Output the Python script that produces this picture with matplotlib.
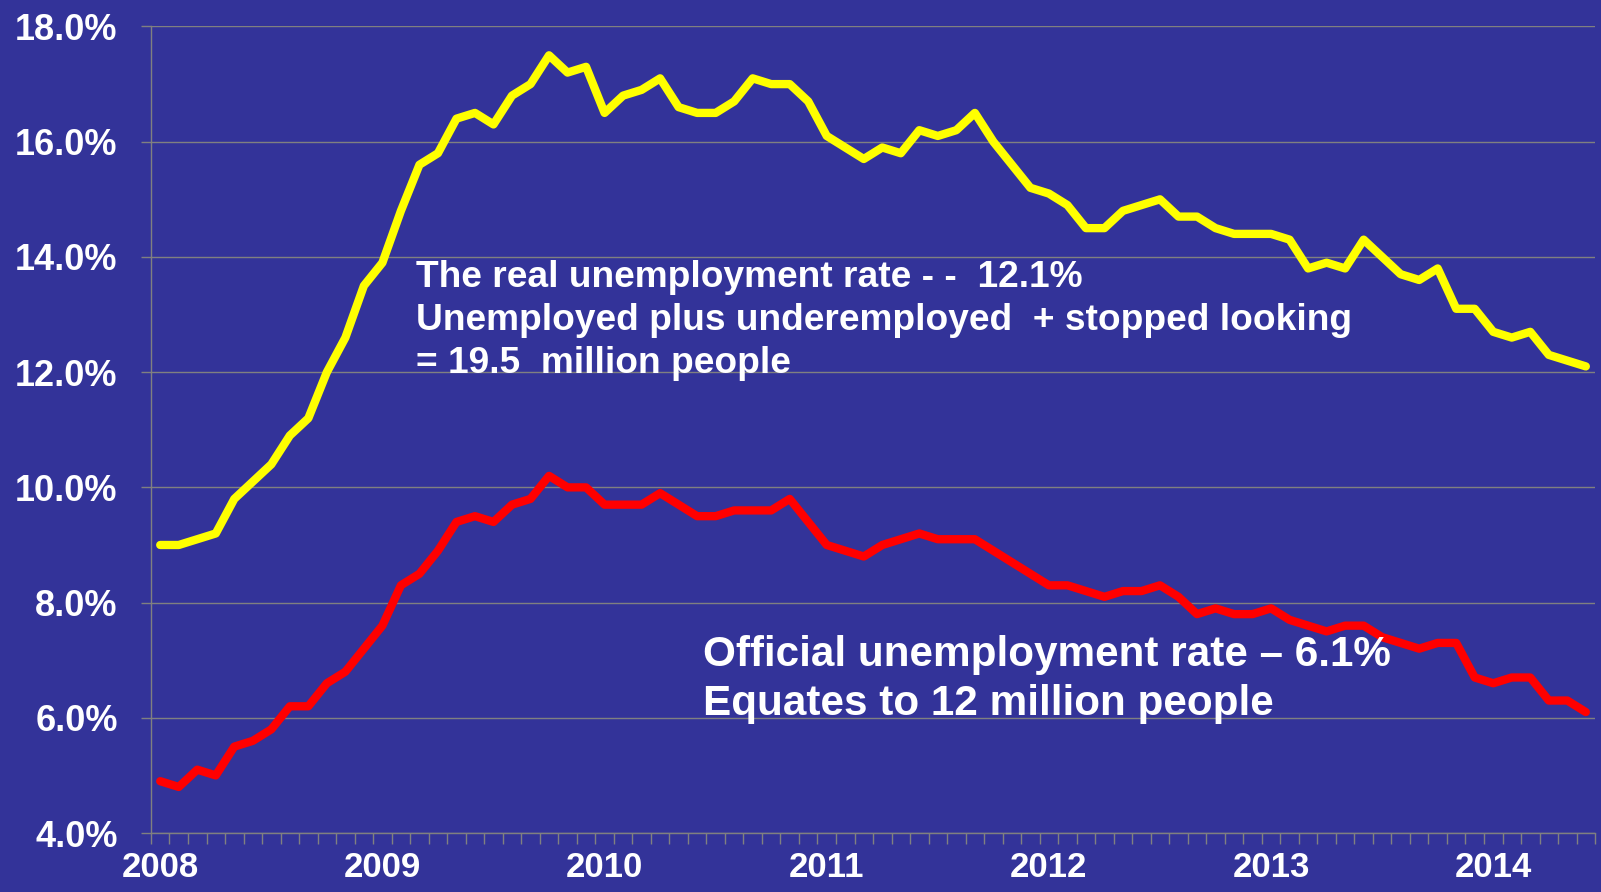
import numpy as np
import matplotlib.pyplot as plt
from matplotlib.ticker import FixedLocator, FuncFormatter

plt.rcParams['font.family'] = ['Liberation Sans', 'DejaVu Sans']

# monthly rates, Jan 2008 - Jun 2014 (percent)
real_rate = [9.0, 9.0, 9.1, 9.2, 9.8, 10.1, 10.4, 10.9, 11.2, 12.0, 12.6, 13.5,
             13.9, 14.8, 15.6, 15.8, 16.4, 16.5, 16.3, 16.8, 17.0, 17.5, 17.2, 17.3,
             16.5, 16.8, 16.9, 17.1, 16.6, 16.5, 16.5, 16.7, 17.1, 17.0, 17.0, 16.7,
             16.1, 15.9, 15.7, 15.9, 15.8, 16.2, 16.1, 16.2, 16.5, 16.0, 15.6, 15.2,
             15.1, 14.9, 14.5, 14.5, 14.8, 14.9, 15.0, 14.7, 14.7, 14.5, 14.4, 14.4,
             14.4, 14.3, 13.8, 13.9, 13.8, 14.3, 14.0, 13.7, 13.6, 13.8, 13.1, 13.1,
             12.7, 12.6, 12.7, 12.3, 12.2, 12.1]

official_rate = [4.9, 4.8, 5.1, 5.0, 5.5, 5.6, 5.8, 6.2, 6.2, 6.6, 6.8, 7.2,
                 7.6, 8.3, 8.5, 8.9, 9.4, 9.5, 9.4, 9.7, 9.8, 10.2, 10.0, 10.0,
                 9.7, 9.7, 9.7, 9.9, 9.7, 9.5, 9.5, 9.6, 9.6, 9.6, 9.8, 9.4,
                 9.0, 8.9, 8.8, 9.0, 9.1, 9.2, 9.1, 9.1, 9.1, 8.9, 8.7, 8.5,
                 8.3, 8.3, 8.2, 8.1, 8.2, 8.2, 8.3, 8.1, 7.8, 7.9, 7.8, 7.8,
                 7.9, 7.7, 7.6, 7.5, 7.6, 7.6, 7.4, 7.3, 7.2, 7.3, 7.3, 6.7,
                 6.6, 6.7, 6.7, 6.3, 6.3, 6.1]

year_labels = ['2008', '2009', '2010', '2011', '2012', '2013', '2014']
y_ticks = [4, 6, 8, 10, 12, 14, 16, 18]

real_text = ("The real unemployment rate - -  12.1%\n"
             "Unemployed plus underemployed  + stopped looking\n"
             "= 19.5  million people")
official_text = "Official unemployment rate \u2013 6.1%\nEquates to 12 million people"

bg = '#333399'
grey = '#808080'

fig = plt.figure(figsize=(16.01, 8.92), dpi=100)
fig.patch.set_facecolor(bg)
ax = fig.add_axes([0.0943, 0.0661, 0.902, 0.9042])
ax.set_facecolor(bg)

x = np.arange(len(real_rate))
ax.plot(x, real_rate, color='#ffff00', lw=6, solid_capstyle='round',
        solid_joinstyle='round', zorder=3)
ax.plot(x, official_rate, color='#ff0000', lw=6, solid_capstyle='round',
        solid_joinstyle='round', zorder=3)

ax.set_xlim(-0.5, len(real_rate) - 0.5)
ax.set_ylim(4, 18)

# y axis
ax.set_yticks(y_ticks)
ax.yaxis.set_major_formatter(FuncFormatter(lambda v, p: '%.1f%%' % v))
ax.yaxis.grid(True, color=grey, lw=1, zorder=1)
ax.tick_params(axis='y', length=7, width=1, color=grey, pad=17,
               labelsize=26, labelcolor='white')

# x axis: year labels at january, ticks between months
ax.set_xticks(np.arange(len(year_labels)) * 12)
ax.set_xticklabels(year_labels)
ax.xaxis.set_minor_locator(FixedLocator(np.arange(-0.5, len(real_rate), 1)))
ax.tick_params(axis='x', which='major', length=0, pad=13, labelsize=25,
               labelcolor='white')
ax.tick_params(axis='x', which='minor', length=8, width=1, color=grey)
for lab in ax.get_xticklabels() + ax.get_yticklabels():
    lab.set_fontweight('bold')

for s in ['top', 'right']:
    ax.spines[s].set_visible(False)
for s in ['left', 'bottom']:
    ax.spines[s].set_color(grey)
    ax.spines[s].set_linewidth(1)

fig.text(0.2598, 0.641, real_text, color='white', fontsize=26.7, fontweight='bold',
         ha='left', va='center', linespacing=1.3)
fig.text(0.4388, 0.238, official_text, color='white', fontsize=30.4, fontweight='bold',
         ha='left', va='center', linespacing=1.3)

plt.savefig('out.png', dpi=100, facecolor=bg)
